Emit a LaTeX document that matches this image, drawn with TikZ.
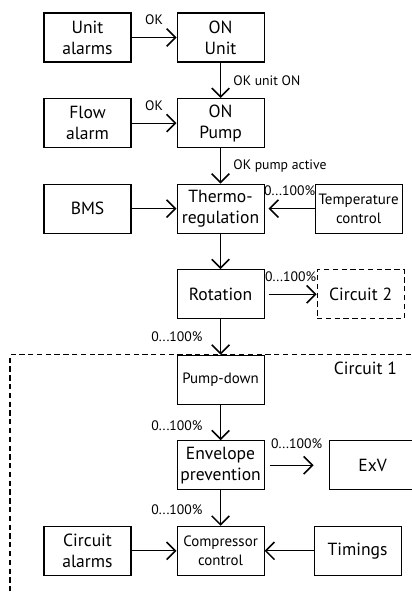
\documentclass[tikz,border=0pt]{standalone}
\usepackage{fontspec}
\setmainfont{PT Sans}
\usepackage{tikz}
\usetikzlibrary{positioning,arrows.meta}

\begin{document}
\begin{tikzpicture}[
  >={Straight Barb[length=5pt,width=10pt,line width=0.9pt]},
  node distance=0.71cm and 0.9cm,
  every node/.style={align=center},
  box/.style={draw, line width=0.6pt, minimum width=1.74cm, minimum height=0.98cm, inner sep=1pt, font=\fontsize{10}{12}\selectfont},
  smallbox/.style={box, font=\fontsize{8.5}{11}\selectfont},
  dashbox/.style={box, dash pattern=on 3pt off 2pt},
  flow/.style={->, line width=0.6pt},
  lbl/.style={font=\fontsize{7.8}{9}\selectfont, inner sep=1pt},
  frame/.style={line width=0.6pt, dash pattern=on 3pt off 2pt}
]
\useasboundingbox (0,0) rectangle (8.24,-11.84);

\node[box] (unitalarms) at (1.75,-0.75) {Unit\\alarms};
\node[box, right=of unitalarms] (onunit) {ON\\Unit};

\node[box, below=of onunit] (onpump) {ON\\Pump};
\node[box, left=of onpump] (flowalarm) {Flow\\alarm};

\node[box, below=of onpump] (thermo) {Thermo-\\regulation};
\node[box, left=of thermo] (bms) {BMS};
\node[smallbox, right=1cm of thermo] (tempctrl) {Temperature\\control};

\node[box, below=of thermo] (rotation) {Rotation};
\node[dashbox, right=1.04cm of rotation] (circuit2) {Circuit 2};

\node[smallbox, below=of rotation] (pumpdown) {Pump-down};
\node[box, below=of pumpdown] (envelope) {Envelope\\prevention};
\node[box, right=1.28cm of envelope] (exv) {ExV};

\node[smallbox, below=of envelope] (compressor) {Compressor\\control};
\node[box, left=of compressor] (circalarms) {Circuit\\alarms};
\node[box, right=0.98cm of compressor] (timings) {Timings};

% circuit 1 area
\draw[frame] (pumpdown.north -| 8.4,0) -- (pumpdown.north -| 0.2,0) -- (0.2,-11.9);
\node[anchor=north east, inner sep=1pt, yshift=-3pt] (circuit1) at (pumpdown.north -| 7.98,0) {Circuit 1};

\draw[flow] (unitalarms) -- node[lbl, above=6pt] {OK} (onunit);
\draw[flow] (onunit) -- node[lbl, right=6pt] {OK unit ON} (onpump);
\draw[flow] (flowalarm) -- node[lbl, above=6pt] {OK} (onpump);
\draw[flow] (onpump) -- node[lbl, right=6pt] {OK pump active} (thermo);

\draw[flow] (bms) -- (thermo);
\draw[flow, shorten >=0.08cm] (tempctrl) -- node[lbl, above=6pt] {0...100\%} (thermo);
\draw[flow] (thermo) -- (rotation);
\draw[flow, shorten <=0.08cm] (rotation) -- node[lbl, above=6pt] {0...100\%} (circuit2);
\draw[flow] (rotation) -- node[lbl, left=9pt] {0...100\%} (pumpdown);

\draw[flow] (pumpdown) -- node[lbl, left=9pt, pos=0.6] {0...100\%} (envelope);
\draw[flow, shorten <=0.1cm, shorten >=0.3cm] (envelope) -- node[lbl, above=8pt] {0...100\%} (exv);
\draw[flow] (envelope) -- node[lbl, left=9pt, pos=0.55] {0...100\%} (compressor);

\draw[flow] (circalarms) -- (compressor);
\draw[flow] (timings) -- (compressor);

\end{tikzpicture}
\end{document}
